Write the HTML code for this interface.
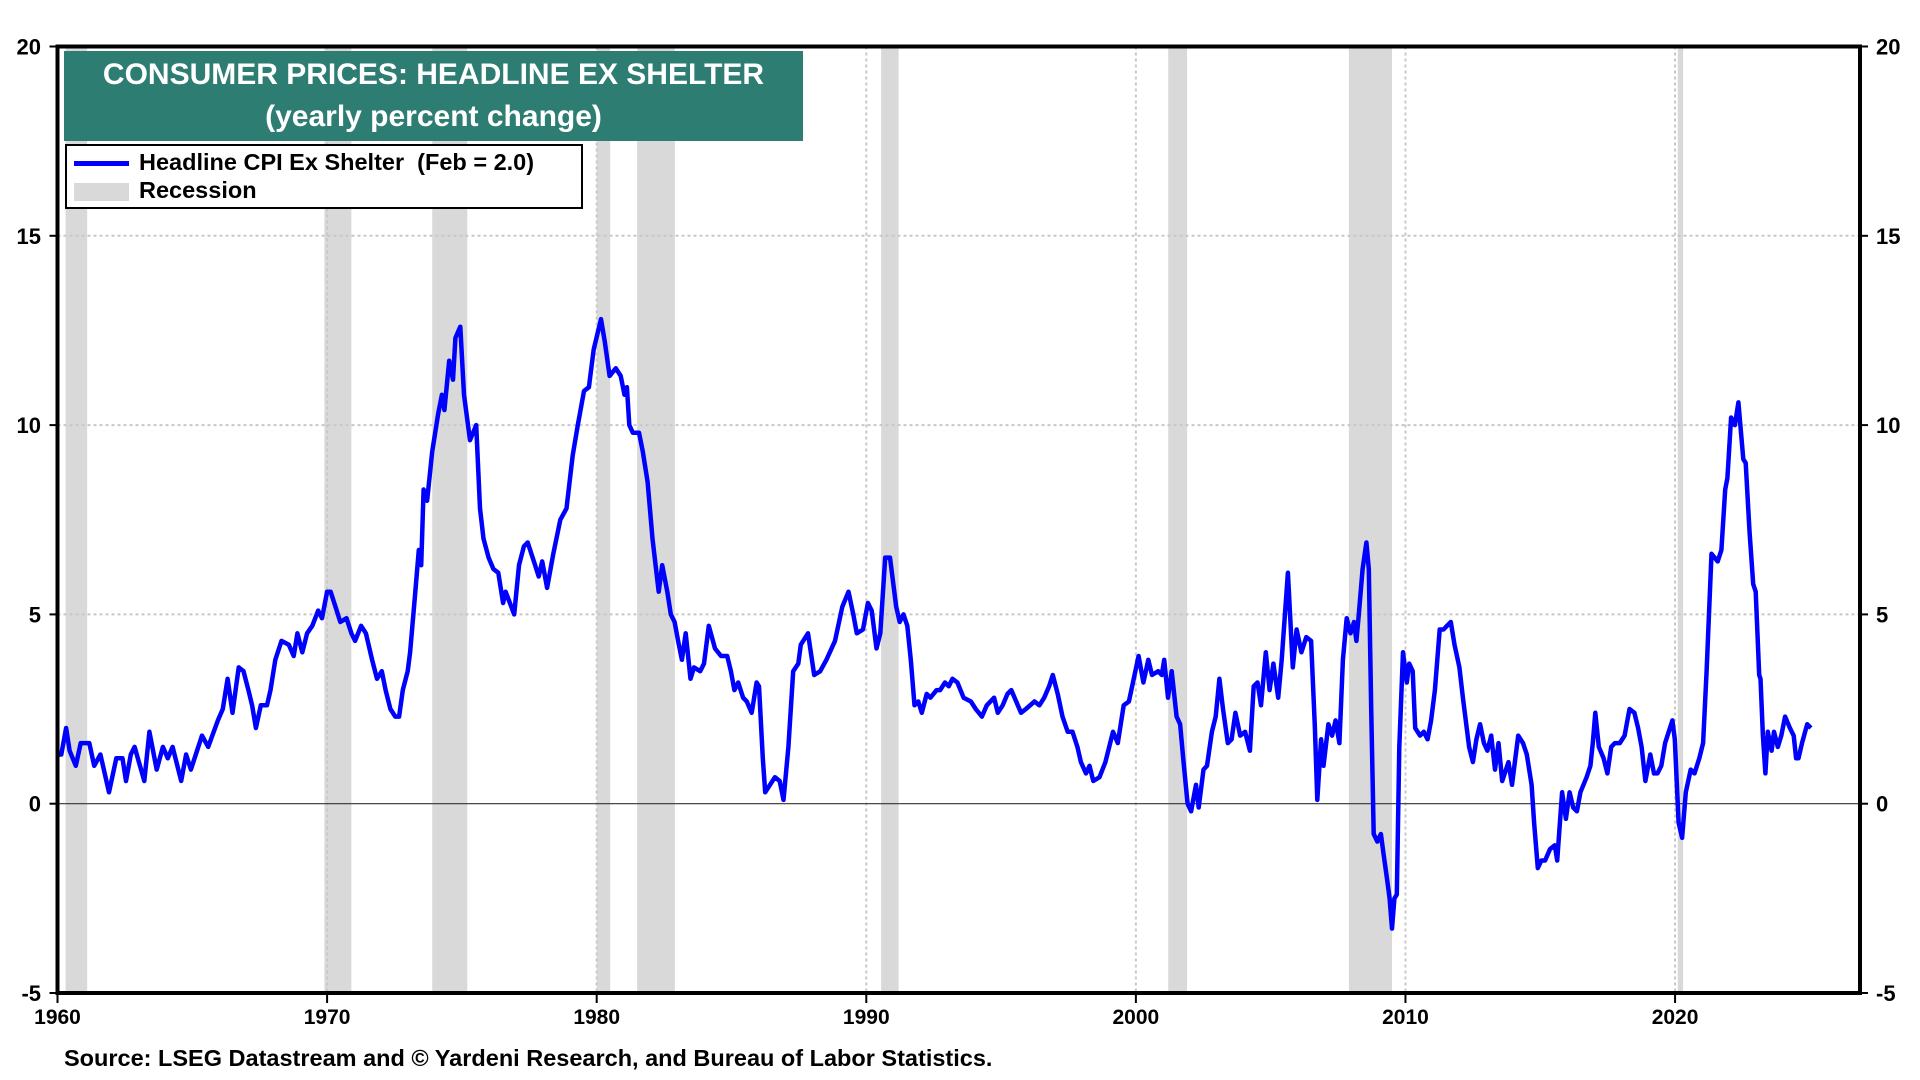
<!DOCTYPE html>
<html><head><meta charset="utf-8"><style>
html,body{margin:0;padding:0;background:#fff;width:1920px;height:1080px;overflow:hidden;font-family:"Liberation Sans",Arial,sans-serif}
</style></head><body>
<svg id="chart" width="1920" height="1080" xmlns="http://www.w3.org/2000/svg" font-family="Liberation Sans, Arial, sans-serif"></svg>
<script>
const dates=[1960.00,1960.14,1960.32,1960.45,1960.68,1960.86,1961.18,1961.36,1961.59,1961.91,1962.18,1962.41,1962.54,1962.72,1962.86,1963.22,1963.41,1963.68,1963.91,1964.09,1964.27,1964.59,1964.77,1964.95,1965.13,1965.36,1965.59,1965.95,1966.13,1966.31,1966.49,1966.72,1966.90,1967.08,1967.22,1967.36,1967.54,1967.77,1967.90,1968.08,1968.31,1968.58,1968.76,1968.90,1969.08,1969.26,1969.45,1969.67,1969.81,1970.00,1970.13,1970.31,1970.49,1970.72,1970.90,1971.04,1971.26,1971.44,1971.67,1971.85,1972.03,1972.17,1972.35,1972.53,1972.67,1972.81,1972.99,1973.08,1973.26,1973.40,1973.49,1973.58,1973.71,1973.90,1974.12,1974.26,1974.35,1974.53,1974.67,1974.76,1974.94,1975.08,1975.30,1975.53,1975.67,1975.80,1975.99,1976.17,1976.35,1976.53,1976.62,1976.94,1977.12,1977.30,1977.44,1977.67,1977.85,1977.98,1978.16,1978.39,1978.65,1978.88,1979.11,1979.30,1979.53,1979.71,1979.89,1980.16,1980.30,1980.48,1980.71,1980.89,1981.03,1981.12,1981.21,1981.34,1981.57,1981.71,1981.89,1982.07,1982.30,1982.43,1982.62,1982.75,1982.89,1983.02,1983.16,1983.30,1983.48,1983.61,1983.84,1983.98,1984.16,1984.39,1984.61,1984.84,1984.98,1985.11,1985.25,1985.43,1985.57,1985.75,1985.93,1986.02,1986.16,1986.25,1986.61,1986.79,1986.93,1987.11,1987.29,1987.48,1987.57,1987.84,1988.07,1988.29,1988.52,1988.84,1989.11,1989.34,1989.52,1989.65,1989.88,1990.06,1990.20,1990.38,1990.52,1990.70,1990.88,1991.11,1991.24,1991.38,1991.52,1991.65,1991.79,1991.93,1992.06,1992.24,1992.38,1992.61,1992.74,1992.92,1993.06,1993.20,1993.38,1993.61,1993.88,1994.06,1994.29,1994.47,1994.74,1994.88,1995.06,1995.24,1995.38,1995.56,1995.74,1995.92,1996.24,1996.42,1996.60,1996.78,1996.92,1997.10,1997.28,1997.47,1997.65,1997.83,1997.96,1998.15,1998.28,1998.42,1998.65,1998.87,1999.15,1999.33,1999.55,1999.74,2000.10,2000.28,2000.46,2000.60,2000.83,2000.96,2001.05,2001.19,2001.33,2001.51,2001.64,2001.78,2001.92,2002.05,2002.23,2002.33,2002.51,2002.64,2002.82,2002.96,2003.10,2003.23,2003.41,2003.55,2003.69,2003.87,2004.05,2004.23,2004.37,2004.51,2004.64,2004.82,2004.96,2005.10,2005.28,2005.41,2005.64,2005.82,2005.96,2006.14,2006.32,2006.50,2006.64,2006.73,2006.87,2006.96,2007.14,2007.28,2007.41,2007.55,2007.68,2007.82,2007.96,2008.09,2008.18,2008.27,2008.41,2008.55,2008.64,2008.73,2008.82,2008.96,2009.09,2009.18,2009.32,2009.41,2009.50,2009.59,2009.68,2009.77,2009.91,2010.05,2010.14,2010.27,2010.36,2010.54,2010.68,2010.82,2010.95,2011.09,2011.27,2011.41,2011.54,2011.68,2011.82,2012.00,2012.13,2012.36,2012.50,2012.63,2012.77,2012.91,2013.04,2013.18,2013.32,2013.45,2013.59,2013.82,2013.95,2014.18,2014.36,2014.50,2014.68,2014.77,2014.91,2015.04,2015.18,2015.36,2015.54,2015.63,2015.81,2015.95,2016.09,2016.22,2016.36,2016.49,2016.72,2016.86,2016.95,2017.04,2017.17,2017.35,2017.49,2017.63,2017.77,2017.95,2018.13,2018.31,2018.49,2018.63,2018.76,2018.90,2019.08,2019.22,2019.35,2019.49,2019.63,2019.90,2019.99,2020.13,2020.26,2020.40,2020.58,2020.72,2020.90,2021.04,2021.17,2021.35,2021.58,2021.72,2021.86,2021.94,2022.08,2022.22,2022.35,2022.53,2022.62,2022.76,2022.90,2022.99,2023.12,2023.17,2023.26,2023.35,2023.44,2023.58,2023.67,2023.81,2023.94,2024.08,2024.26,2024.40,2024.49,2024.58,2024.71,2024.90,2025.04];
const values=[1.3,1.3,2.0,1.4,1.0,1.6,1.6,1.0,1.3,0.3,1.2,1.2,0.6,1.3,1.5,0.6,1.9,0.9,1.5,1.2,1.5,0.6,1.3,0.9,1.3,1.8,1.5,2.2,2.5,3.3,2.4,3.6,3.5,3.0,2.6,2.0,2.6,2.6,3.0,3.8,4.3,4.2,3.9,4.5,4.0,4.5,4.7,5.1,4.9,5.6,5.6,5.2,4.8,4.9,4.5,4.3,4.7,4.5,3.8,3.3,3.5,3.0,2.5,2.3,2.3,3.0,3.5,4.0,5.5,6.7,6.3,8.3,8.0,9.3,10.3,10.8,10.4,11.7,11.2,12.3,12.6,10.8,9.6,10.0,7.8,7.0,6.5,6.2,6.1,5.3,5.6,5.0,6.3,6.8,6.9,6.4,6.0,6.4,5.7,6.6,7.5,7.8,9.2,10.0,10.9,11.0,12.0,12.8,12.2,11.3,11.5,11.3,10.8,11.0,10.0,9.8,9.8,9.3,8.5,7.0,5.6,6.3,5.6,5.0,4.8,4.3,3.8,4.5,3.3,3.6,3.5,3.7,4.7,4.1,3.9,3.9,3.5,3.0,3.2,2.8,2.7,2.4,3.2,3.1,1.2,0.3,0.7,0.6,0.1,1.5,3.5,3.7,4.2,4.5,3.4,3.5,3.8,4.3,5.2,5.6,5.0,4.5,4.6,5.3,5.1,4.1,4.5,6.5,6.5,5.2,4.8,5.0,4.7,3.8,2.6,2.7,2.4,2.9,2.8,3.0,3.0,3.2,3.1,3.3,3.2,2.8,2.7,2.5,2.3,2.6,2.8,2.4,2.6,2.9,3.0,2.7,2.4,2.5,2.7,2.6,2.8,3.1,3.4,2.9,2.3,1.9,1.9,1.5,1.1,0.8,1.0,0.6,0.7,1.1,1.9,1.6,2.6,2.7,3.9,3.2,3.8,3.4,3.5,3.4,3.8,2.8,3.5,2.3,2.1,1.0,0.0,-0.2,0.5,-0.1,0.9,1.0,1.9,2.3,3.3,2.5,1.6,1.7,2.4,1.8,1.9,1.4,3.1,3.2,2.6,4.0,3.0,3.7,2.8,3.8,6.1,3.6,4.6,4.0,4.4,4.3,2.0,0.1,1.7,1.0,2.1,1.8,2.2,1.6,3.8,4.9,4.5,4.8,4.3,5.0,6.2,6.9,6.2,2.5,-0.8,-1.0,-0.8,-1.3,-2.0,-2.5,-3.3,-2.5,-2.4,1.5,4.0,3.2,3.7,3.5,2.0,1.8,1.9,1.7,2.2,3.0,4.6,4.6,4.7,4.8,4.2,3.6,2.8,1.5,1.1,1.7,2.1,1.6,1.4,1.8,0.9,1.6,0.6,1.1,0.5,1.8,1.6,1.3,0.5,-0.5,-1.7,-1.5,-1.5,-1.2,-1.1,-1.5,0.3,-0.4,0.3,-0.1,-0.2,0.3,0.7,1.0,1.6,2.4,1.5,1.2,0.8,1.5,1.6,1.6,1.8,2.5,2.4,2.0,1.5,0.6,1.3,0.8,0.8,1.0,1.6,2.2,1.7,-0.5,-0.9,0.3,0.9,0.8,1.2,1.6,3.5,6.6,6.4,6.7,8.3,8.6,10.2,10.0,10.6,9.1,9.0,7.2,5.8,5.6,3.4,3.3,1.8,0.8,1.9,1.4,1.9,1.5,1.8,2.3,2.0,1.8,1.2,1.2,1.6,2.1,2.0];
const recStart=[1960.3,1969.9,1973.9,1980.0,1981.5,1990.55,2001.2,2007.9,2020.1];
const recEnd=[1961.1,1970.9,1975.2,1980.5,1982.9,1991.2,2001.9,2009.5,2020.3];
const yTicks=[-5,0,5,10,15,20];
const xTicks=[1960,1970,1980,1990,2000,2010,2020];

const L=57.5,R=1860,T=46.5,B=993;
const X0=1960,X1=2026.86,Y0=-5,Y1=20;
const sx=v=>L+(v-X0)/(X1-X0)*(R-L);
const sy=v=>B-(v-Y0)/(Y1-Y0)*(B-T);
const svg=document.getElementById('chart');
const NS='http://www.w3.org/2000/svg';
function mk(tag,attrs,parent){const e=document.createElementNS(NS,tag);for(const k in attrs)e.setAttribute(k,attrs[k]);(parent||svg).appendChild(e);return e;}

recStart.forEach((s,i)=>{
  const r=mk('rect',{x:sx(s),y:T,width:sx(recEnd[i])-sx(s),height:B-T,fill:'#d9d9d9'});
  
  
});
yTicks.forEach(v=>{
  if(v>Y0&&v<Y1&&v!==0){const g=mk('line',{x1:L,x2:R,y1:sy(v),y2:sy(v),stroke:'#c8c8c8','stroke-width':2,'stroke-dasharray':'3,3'});
  
  }
  const t1=mk('text',{x:41,y:sy(v)+8,'text-anchor':'end','font-size':22,'font-weight':'bold',fill:'#000'});t1.textContent=v;
  
  
  const t2=mk('text',{x:1876,y:sy(v)+8,'text-anchor':'start','font-size':22,'font-weight':'bold',fill:'#000'});t2.textContent=v;
  
  
  mk('line',{x1:L-8,x2:L,y1:sy(v),y2:sy(v),stroke:'#000','stroke-width':2});
  mk('line',{x1:R,x2:R+8,y1:sy(v),y2:sy(v),stroke:'#000','stroke-width':2});
});
xTicks.forEach(v=>{
  if(v>X0){const g=mk('line',{x1:sx(v),x2:sx(v),y1:T,y2:B,stroke:'#c8c8c8','stroke-width':2,'stroke-dasharray':'3,3'});
  
  }
  mk('line',{x1:sx(v),x2:sx(v),y1:B,y2:B+10,stroke:'#000','stroke-width':2});
  const t=mk('text',{x:sx(v),y:1024,'text-anchor':'middle','font-size':21,'font-weight':'bold',fill:'#000'});t.textContent=v;
  
  
});
const z=mk('line',{x1:L,x2:R,y1:sy(0),y2:sy(0),stroke:'#333','stroke-width':1.2});


const d=dates.map((t,i)=>(i?'L':'M')+sx(t).toFixed(1)+','+sy(values[i]).toFixed(1)).join('');
const p=mk('path',{d:d,fill:'none',stroke:'#0000ff','stroke-width':4.5,'stroke-linejoin':'round'});


const f=mk('rect',{x:L,y:T,width:R-L,height:B-T,fill:'none',stroke:'#000','stroke-width':4});


</script>
<div style="position:absolute;left:64px;top:51px;width:739px;height:90px;background:#2e7d72;color:#fff;font-weight:bold;text-align:center;font-size:30px;line-height:42px;padding-top:3px;box-sizing:border-box">
<div>CONSUMER PRICES: HEADLINE EX SHELTER</div>
<div>(yearly percent change)</div>
</div>
<div style="position:absolute;left:65px;top:144px;width:518px;height:65px;background:#fff;border:2px solid #000;box-sizing:border-box;font-weight:bold;font-size:23.5px">
<div style="position:absolute;left:7px;top:3px;white-space:nowrap"><span style="display:inline-block;width:55px;height:5px;background:#0000ff;vertical-align:middle;margin-right:10px"></span>Headline CPI Ex Shelter&nbsp; (Feb = 2.0)</div>
<div style="position:absolute;left:7px;top:31px;white-space:nowrap"><span style="display:inline-block;width:55px;height:18px;background:#d9d9d9;vertical-align:middle;margin-right:10px"></span>Recession</div>
</div>
<div style="position:absolute;left:64px;top:1045px;font-size:23.5px;font-weight:bold;white-space:nowrap">Source: LSEG Datastream and © Yardeni Research, and Bureau of Labor Statistics.</div>
</body></html>
